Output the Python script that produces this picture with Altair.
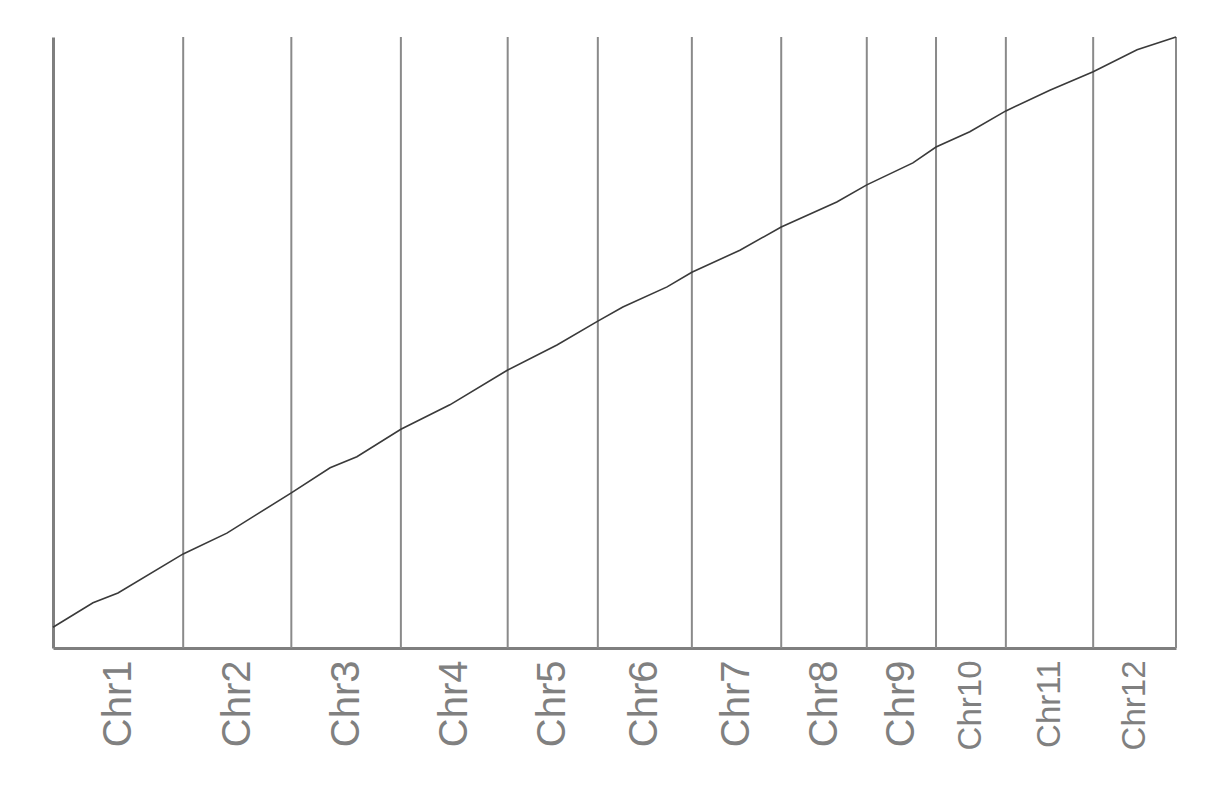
import json
import altair as alt
import pandas as pd

# Rice chromosomes and their lengths (Mb)
chroms = ["Chr1", "Chr2", "Chr3", "Chr4", "Chr5", "Chr6",
          "Chr7", "Chr8", "Chr9", "Chr10", "Chr11", "Chr12"]
chrom_lengths_mb = [43.27, 35.94, 36.41, 35.50, 29.96, 31.25,
                    29.70, 28.44, 23.01, 23.21, 29.02, 27.53]

# Cumulative curve (genome position in Mb, relative value)
line_pos_mb = [0.0, 13.3, 21.6, 43.27, 57.8, 79.21, 92.1, 101.0, 115.62, 131.9,
               151.12, 167.5, 181.08, 189.4, 204.1, 212.33, 228.3, 242.03, 260.5,
               270.47, 285.8, 293.48, 304.7, 316.69, 331.3, 345.71, 360.3, 373.24]
line_value = [3.4, 7.4, 9.0, 15.4, 18.8, 25.4, 29.5, 31.3, 35.8, 39.8,
              45.5, 49.6, 53.5, 55.8, 59.1, 61.5, 65.1, 68.9, 73.0,
              75.8, 79.4, 82.0, 84.5, 87.9, 91.3, 94.3, 97.9, 100.0]

ends = []
acc = 0.0
for L in chrom_lengths_mb:
    acc += L
    ends.append(round(acc, 3))
starts = [0.0] + ends[:-1]
mids = [round((s + e) / 2, 3) for s, e in zip(starts, ends)]
total = ends[-1]

line_df = pd.DataFrame({"pos": line_pos_mb, "val": line_value})
bound_df = pd.DataFrame({"pos": ends, "y0": [0] * len(ends), "y1": [100] * len(ends)})

mids_js = json.dumps(mids)
names_js = json.dumps(chroms)

x_scale = alt.Scale(domain=[0, total], nice=False, zero=False)
y_scale = alt.Scale(domain=[0, 100], nice=False)

x_axis = alt.Axis(
    values=mids,
    labelExpr=f"{names_js}[indexof({mids_js}, datum.value)]",
    labelAngle=-90,
    labelColor="#808080",
    labelFont="Liberation Sans",
    labelFontSize={"condition": {"test": "datum.value > 295", "value": 33},
                   "value": 40},
    labelPadding=12,
    ticks=False,
    grid=False,
    domainColor="#7f7f7f",
    domainWidth=3,
    title=None,
    labelOverlap=False,
)
y_axis = alt.Axis(
    labels=False, ticks=False, grid=False, title=None,
    domainColor="#7f7f7f", domainWidth=3,
)

rules = alt.Chart(bound_df).mark_rule(color="#8a8a8a", strokeWidth=2).encode(
    x=alt.X("pos:Q", scale=x_scale, axis=x_axis),
    y=alt.Y("y0:Q", scale=y_scale, axis=y_axis),
    y2="y1:Q",
)

line = alt.Chart(line_df).mark_line(color="#3a3a3a", strokeWidth=1.6).encode(
    x=alt.X("pos:Q", scale=x_scale),
    y=alt.Y("val:Q", scale=y_scale),
)

chart = alt.layer(rules, line).properties(
    width=1123,
    height=611,
    autosize=alt.AutoSizeParams(type="none"),
    padding={"left": 45, "top": 29, "right": 40, "bottom": 135},
    background="white",
).configure_view(stroke=None)

chart.save("out.html", embed_options={"renderer": "svg", "actions": False})
